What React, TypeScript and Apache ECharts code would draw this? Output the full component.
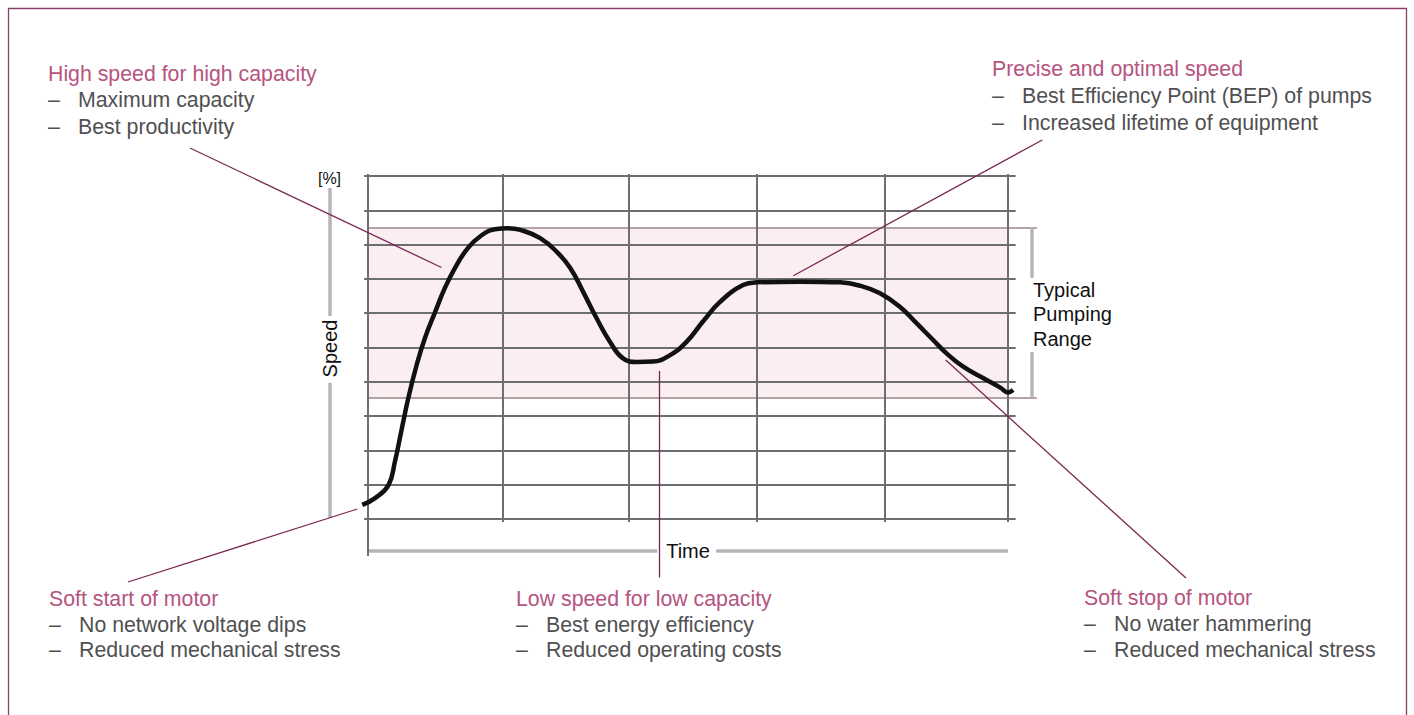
import React, { useEffect, useRef } from "react";
import * as echarts from "echarts";

// Curve: time (0 = first grid line, 100 = last grid line), speed in %
const timeData = [-0.9, 1.1, 3.2, 4.2, 5.3, 6.3, 7.6, 8.9, 10.5, 12.0, 13.6, 15.6, 17.8, 19.8, 21.9, 23.8, 26.9, 29.5, 31.6, 33.6, 35.7, 37.8, 39.8, 42.0, 44.5, 47.2, 49.8, 52.3, 55.0, 58.6, 60.7, 67.5, 73.8, 76.9, 80.0, 83.1, 85.7, 88.3, 90.4, 93.0, 96.1, 98.8, 100.0, 100.8];
const speedData = [4.1, 6.1, 9.9, 16.7, 26.5, 35.3, 44.9, 52.8, 60.4, 67.3, 73.2, 79.0, 82.8, 84.5, 84.8, 84.3, 81.9, 77.9, 73.2, 66.3, 58.6, 51.7, 46.9, 45.8, 45.9, 47.8, 51.7, 57.5, 63.3, 68.2, 69.0, 69.2, 69.0, 68.0, 65.8, 61.9, 57.1, 52.2, 48.3, 44.4, 41.1, 38.3, 36.9, 37.6];

// Grid positions
const timeGridLines = [0, 21, 40.8, 60.8, 80.8, 100];
const speedGridLines = [0, 10, 20, 30, 40, 50, 60, 70, 80, 90, 100];

// Typical pumping range
const rangeTop = 85;
const rangeBottom = 35.4;

// Annotations
const annHigh = { title: "High speed for high capacity", items: ["Maximum capacity", "Best productivity"] };
const annPrecise = { title: "Precise and optimal speed", items: ["Best Efficiency Point (BEP) of pumps", "Increased lifetime of equipment"] };
const annSoftStart = { title: "Soft start of motor", items: ["No network voltage dips", "Reduced mechanical stress"] };
const annLow = { title: "Low speed for low capacity", items: ["Best energy efficiency", "Reduced operating costs"] };
const annSoftStop = { title: "Soft stop of motor", items: ["No water hammering", "Reduced mechanical stress"] };
const rangeLabel = ["Typical", "Pumping", "Range"];

const FONT = "'Liberation Sans', Arial, Helvetica, sans-serif";
const PINK = "#b5547f";
const GREY_TXT = "#505052";
const LEADER = "#7a2653";
const GRID_C = "#6d6e72";
const AXIS_C = "#b6b6ba";

function seg(x1: number, y1: number, x2: number, y2: number, color: string, width: number) {
  return [
    { coord: [x1, y1], lineStyle: { color, width, type: "solid" } },
    { coord: [x2, y2] },
  ];
}

function annotation(a: { title: string; items: string[] }, x: number, yTitle: number, step: number) {
  const els: any[] = [
    { type: "text", x, y: yTitle, style: { text: a.title, fill: PINK, font: `21.3px ${FONT}`, verticalAlign: "middle" } },
  ];
  a.items.forEach((t, i) => {
    const y = yTitle + step * (i + 1);
    els.push({ type: "text", x, y, style: { text: "–", fill: GREY_TXT, font: `21.3px ${FONT}`, verticalAlign: "middle" } });
    els.push({ type: "text", x: x + 30, y, style: { text: t, fill: GREY_TXT, font: `21.3px ${FONT}`, verticalAlign: "middle" } });
  });
  return els;
}

export default function App() {
  const ref = useRef<HTMLDivElement>(null);
  useEffect(() => {
    if (!ref.current) return;
    const chart = echarts.init(ref.current, undefined, { renderer: "svg" });

    const gridLines: any[] = [];
    speedGridLines.forEach((s) => gridLines.push(seg(-0.6, s, 101.2, s, GRID_C, 2)));
    timeGridLines.forEach((t, i) => gridLines.push(seg(t, 100.6, t, i === 0 ? -10.8 : -0.9, GRID_C, 2)));

    const decoLines: any[] = [
      // pumping range borders
      seg(0, rangeTop, 104.5, rangeTop, "#b2a4a5", 2),
      seg(0, rangeBottom, 104.5, rangeBottom, "#b2a4a5", 2),
      // range bracket
      seg(103.7, rangeTop, 103.7, 70.3, AXIS_C, 3.5),
      seg(103.7, 48.7, 103.7, rangeBottom, AXIS_C, 3.5),
      // speed axis
      seg(-5.94, 96.5, -5.94, 59.2, AXIS_C, 3.5),
      seg(-5.94, 39.7, -5.94, 0.3, AXIS_C, 3.5),
      // time axis
      seg(0, -9.3, 45.2, -9.3, AXIS_C, 3.5),
      seg(54.4, -9.3, 100, -9.3, AXIS_C, 3.5),
    ];

    const graphics: any[] = [
      { type: "rect", shape: { x: 8.5, y: 8.5, width: 1398, height: 730 }, style: { fill: "none", stroke: "#8c3e6b", lineWidth: 1.3 }, z: 0 },
      // leader lines
      { type: "line", shape: { x1: 190, y1: 148, x2: 441.5, y2: 267.5 }, style: { stroke: LEADER, lineWidth: 1.3 }, z: 50 },
      { type: "line", shape: { x1: 1042.3, y1: 140, x2: 793.3, y2: 275.7 }, style: { stroke: LEADER, lineWidth: 1.3 }, z: 50 },
      { type: "line", shape: { x1: 128, y1: 582, x2: 357.3, y2: 509 }, style: { stroke: LEADER, lineWidth: 1.3 }, z: 50 },
      { type: "line", shape: { x1: 659.5, y1: 577.5, x2: 659.5, y2: 371 }, style: { stroke: LEADER, lineWidth: 1.3 }, z: 50 },
      { type: "line", shape: { x1: 1186, y1: 578, x2: 945.7, y2: 360 }, style: { stroke: LEADER, lineWidth: 1.3 }, z: 50 },
      ...annotation(annHigh, 48, 73.7, 26.7),
      ...annotation(annPrecise, 992, 68.7, 26.9),
      ...annotation(annSoftStart, 49, 598.7, 25.8),
      ...annotation(annLow, 516, 598.7, 25.8),
      ...annotation(annSoftStop, 1084, 597.7, 25.9),
      ...rangeLabel.map((t, i) => ({
        type: "text", x: 1033, y: 289.8 + 24.5 * i,
        style: { text: t, fill: "#111", font: `20px ${FONT}`, verticalAlign: "middle" },
      })),
      { type: "text", x: 329.5, y: 178, style: { text: "[%]", fill: "#111", font: `16px ${FONT}`, align: "center", verticalAlign: "middle" } },
      { type: "text", x: 330, y: 348.5, rotation: Math.PI / 2, style: { text: "Speed", fill: "#111", font: `20px ${FONT}`, align: "center", verticalAlign: "middle" } },
      { type: "text", x: 688, y: 551, style: { text: "Time", fill: "#111", font: `20px ${FONT}`, align: "center", verticalAlign: "middle" } },
    ];

    chart.setOption({
      animation: false,
      backgroundColor: "#ffffff",
      grid: { left: 320, right: 374, top: 171.9, bottom: 154.8, containLabel: false },
      xAxis: { type: "value", min: -7.5, max: 105, show: false },
      yAxis: { type: "value", min: -12, max: 101.2, show: false },
      series: [
        {
          type: "line",
          data: [],
          silent: true,
          z: 1,
          markArea: {
            silent: true,
            itemStyle: { color: "#fbeef0" },
            data: [[{ coord: [0, rangeTop] }, { coord: [100, rangeBottom] }]],
          },
        },
        {
          type: "line",
          data: [],
          silent: true,
          z: 2,
          markLine: { silent: true, symbol: ["none", "none"], label: { show: false }, emphasis: { disabled: true }, data: decoLines },
        },
        {
          type: "line",
          data: [],
          silent: true,
          z: 3,
          markLine: { silent: true, symbol: ["none", "none"], label: { show: false }, emphasis: { disabled: true }, data: gridLines },
        },
        {
          type: "line",
          data: timeData.map((t, i) => [t, speedData[i]]),
          showSymbol: false,
          smooth: 0.45,
          silent: true,
          z: 10,
          lineStyle: { color: "#111111", width: 4.5 },
        },
      ],
      graphic: graphics,
    });
    return () => chart.dispose();
  }, []);
  return <div ref={ref} style={{ position: "fixed", left: 0, top: 0, width: 1414, height: 715 }} />;
}
